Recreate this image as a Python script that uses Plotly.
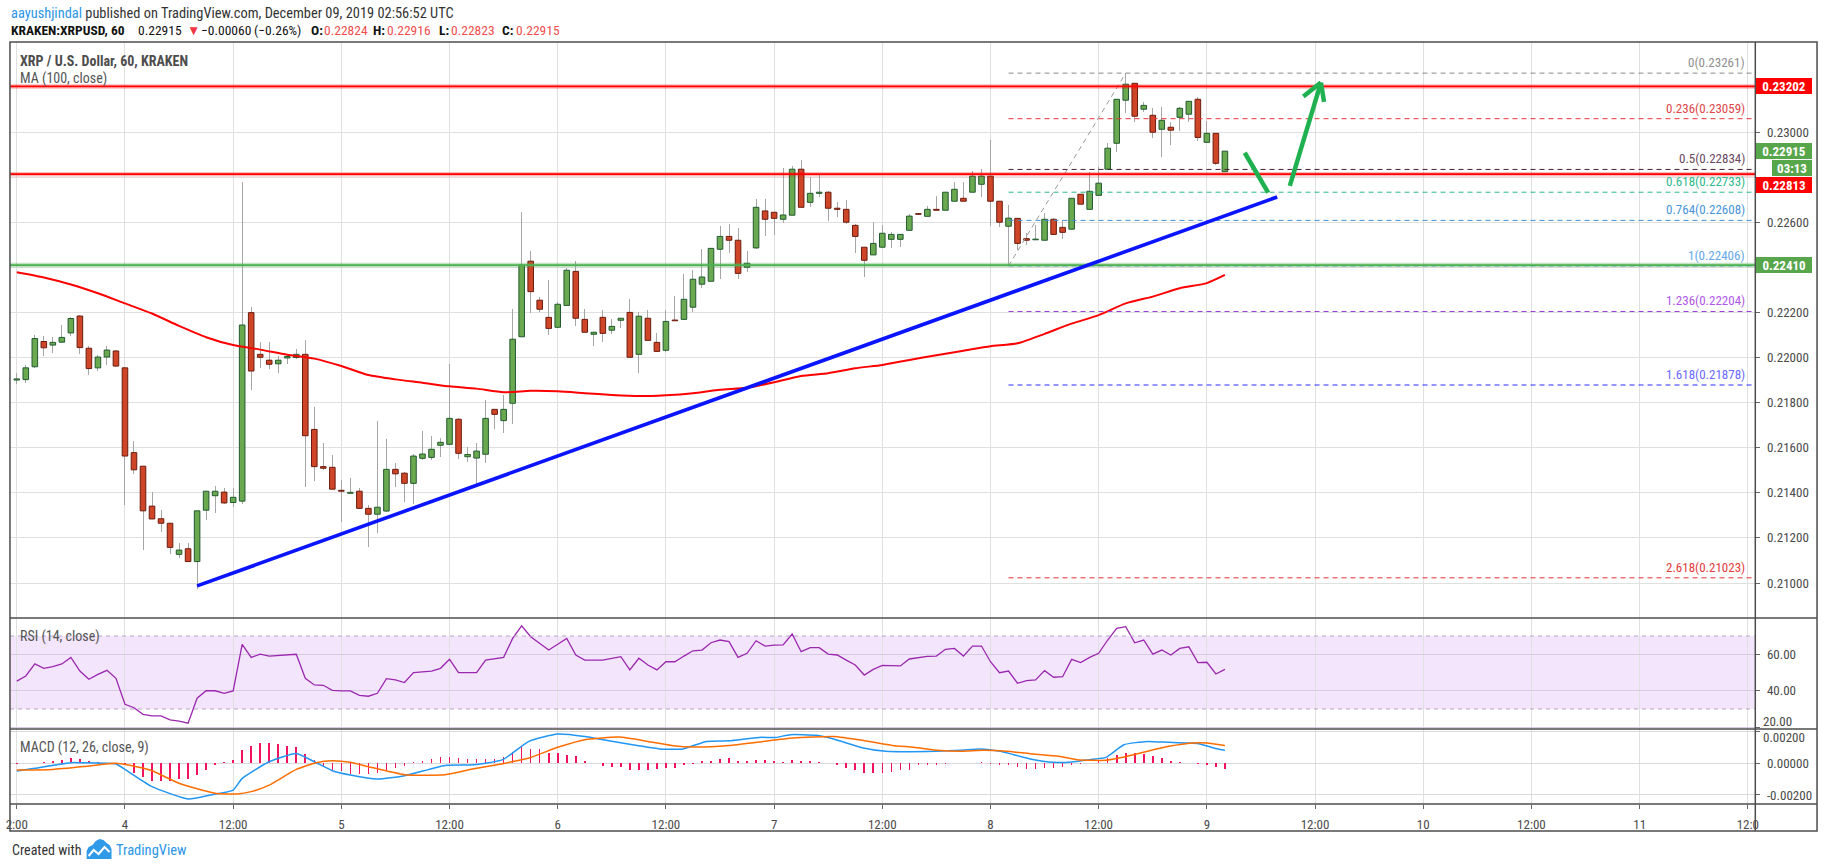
import pandas as pd
import plotly.graph_objects as go

W, H = 1828, 868
BASE = pd.Timestamp("2019-12-04 00:00")
FONT = "Liberation Sans Narrow, Roboto Condensed, Liberation Sans, sans-serif"

# ---------------- data ----------------
candle_hours = list(range(-12, 123))  # hours relative to Dec 4 00:00 UTC

opens = [0.21900, 0.21902, 0.21959, 0.22071, 0.22055, 0.22068, 0.22109, 0.22184, 0.22041, 0.21954, 0.22002, 0.22029,
         0.21954, 0.21578, 0.21518, 0.21341, 0.21285, 0.21265, 0.21127, 0.21152, 0.21095, 0.21323, 0.21387, 0.21403,
         0.21357, 0.21363, 0.22199, 0.22014, 0.21988, 0.21972, 0.21998, 0.22000, 0.22014, 0.21681, 0.21516, 0.21513,
         0.21411, 0.21398, 0.21407, 0.21331, 0.21305, 0.21319, 0.21504, 0.21487, 0.21442, 0.21553, 0.21557, 0.21611,
         0.21615, 0.21726, 0.21560, 0.21554, 0.21571, 0.21770, 0.21720, 0.21797, 0.22092, 0.22427, 0.22254, 0.22178,
         0.22134, 0.22231, 0.22382, 0.22169, 0.22103, 0.22178, 0.22121, 0.22165, 0.22200, 0.22014, 0.22174, 0.22067,
         0.22032, 0.22166, 0.22169, 0.22223, 0.22325, 0.22338, 0.22480, 0.22537, 0.22520, 0.22400, 0.22486, 0.22650,
         0.22644, 0.22613, 0.22631, 0.22835, 0.22688, 0.22728, 0.22733, 0.22662, 0.22657, 0.22586, 0.22489, 0.22455,
         0.22489, 0.22524, 0.22524, 0.22564, 0.22638, 0.22626, 0.22657, 0.22653, 0.22693, 0.22706, 0.22733, 0.22768,
         0.22804, 0.22693, 0.22582, 0.22617, 0.22527, 0.22522, 0.22520, 0.22613, 0.22577, 0.22569, 0.22724, 0.22657,
         0.22719, 0.22835, 0.22950, 0.23141, 0.23216, 0.23101, 0.23074, 0.23012, 0.23021, 0.23065, 0.23079, 0.23145,
         0.22954, 0.22994, 0.22824]
highs = [0.21930, 0.21967, 0.22100, 0.22097, 0.22089, 0.22144, 0.22181, 0.22189, 0.22052, 0.22010, 0.22049, 0.22033,
         0.21957, 0.21629, 0.21518, 0.21403, 0.21323, 0.21265, 0.21178, 0.21178, 0.21320, 0.21407, 0.21428, 0.21423,
         0.21423, 0.22778, 0.22224, 0.22070, 0.22067, 0.22007, 0.22010, 0.22039, 0.22078, 0.21782, 0.21619, 0.21568,
         0.21457, 0.21464, 0.21420, 0.21346, 0.21718, 0.21639, 0.21533, 0.21494, 0.21572, 0.21674, 0.21652, 0.21642,
         0.21971, 0.21730, 0.21601, 0.21619, 0.21811, 0.21770, 0.21834, 0.22215, 0.22647, 0.22472, 0.22267, 0.22344,
         0.22247, 0.22396, 0.22428, 0.22215, 0.22112, 0.22211, 0.22169, 0.22175, 0.22258, 0.22200, 0.22211, 0.22107,
         0.22211, 0.22273, 0.22370, 0.22388, 0.22481, 0.22802, 0.22583, 0.22592, 0.22574, 0.22472, 0.22705, 0.22703,
         0.22644, 0.22839, 0.22849, 0.22876, 0.22802, 0.22812, 0.22740, 0.22688, 0.22698, 0.22592, 0.22489, 0.22602,
         0.22588, 0.22558, 0.22546, 0.22635, 0.22640, 0.22670, 0.22716, 0.22733, 0.22778, 0.22778, 0.22827, 0.22835,
         0.22965, 0.22693, 0.22676, 0.22617, 0.22551, 0.22588, 0.22639, 0.22617, 0.22610, 0.22706, 0.22724, 0.22821,
         0.22846, 0.22951, 0.23145, 0.23261, 0.23216, 0.23132, 0.23105, 0.23110, 0.23043, 0.23112, 0.23136, 0.23157,
         0.23047, 0.22994, 0.22916]
lows = [0.21883, 0.21886, 0.21954, 0.22008, 0.22022, 0.22065, 0.22097, 0.22017, 0.21922, 0.21938, 0.21968, 0.21960,
        0.21344, 0.21482, 0.21146, 0.21282, 0.21228, 0.21130, 0.21111, 0.21095, 0.20975, 0.21280, 0.21312, 0.21352,
        0.21339, 0.21352, 0.21856, 0.21952, 0.21950, 0.21933, 0.21970, 0.21995, 0.21427, 0.21454, 0.21501, 0.21416,
        0.21272, 0.21396, 0.21327, 0.21161, 0.21222, 0.21316, 0.21427, 0.21361, 0.21349, 0.21546, 0.21547, 0.21557,
        0.21613, 0.21549, 0.21538, 0.21427, 0.21531, 0.21682, 0.21664, 0.21704, 0.22092, 0.22199, 0.22200, 0.22100,
        0.22129, 0.22231, 0.22141, 0.22112, 0.22052, 0.22070, 0.22103, 0.22129, 0.22001, 0.21930, 0.22076, 0.22027,
        0.22023, 0.22163, 0.22169, 0.22200, 0.22310, 0.22338, 0.22347, 0.22462, 0.22347, 0.22378, 0.22480, 0.22540,
        0.22543, 0.22598, 0.22631, 0.22666, 0.22666, 0.22710, 0.22607, 0.22622, 0.22592, 0.22462, 0.22356, 0.22455,
        0.22489, 0.22484, 0.22489, 0.22564, 0.22630, 0.22626, 0.22653, 0.22653, 0.22693, 0.22693, 0.22733, 0.22710,
        0.22585, 0.22577, 0.22406, 0.22477, 0.22499, 0.22520, 0.22520, 0.22546, 0.22525, 0.22569, 0.22680, 0.22657,
        0.22719, 0.22835, 0.22913, 0.23083, 0.23046, 0.23090, 0.22972, 0.22888, 0.22941, 0.23006, 0.23043, 0.22962,
        0.22954, 0.22852, 0.22823]
closes = [0.21905, 0.21954, 0.22084, 0.22043, 0.22067, 0.22089, 0.22173, 0.22044, 0.21951, 0.22002, 0.22033, 0.21962,
          0.21563, 0.21502, 0.21320, 0.21284, 0.21265, 0.21158, 0.21146, 0.21095, 0.21320, 0.21407, 0.21407, 0.21355,
          0.21380, 0.22144, 0.21940, 0.22001, 0.21970, 0.21988, 0.22004, 0.22014, 0.21653, 0.21516, 0.21509, 0.21416,
          0.21407, 0.21402, 0.21331, 0.21305, 0.21336, 0.21504, 0.21484, 0.21442, 0.21563, 0.21572, 0.21593, 0.21624,
          0.21730, 0.21575, 0.21570, 0.21585, 0.21730, 0.21748, 0.21770, 0.22081, 0.22410, 0.22292, 0.22214, 0.22129,
          0.22236, 0.22387, 0.22174, 0.22112, 0.22112, 0.22107, 0.22138, 0.22174, 0.22001, 0.22183, 0.22076, 0.22027,
          0.22160, 0.22163, 0.22258, 0.22347, 0.22357, 0.22484, 0.22537, 0.22520, 0.22373, 0.22418, 0.22666, 0.22613,
          0.22617, 0.22632, 0.22835, 0.22666, 0.22728, 0.22733, 0.22662, 0.22657, 0.22600, 0.22537, 0.22431, 0.22506,
          0.22551, 0.22546, 0.22546, 0.22627, 0.22635, 0.22657, 0.22653, 0.22733, 0.22746, 0.22693, 0.22804, 0.22804,
          0.22693, 0.22600, 0.22618, 0.22506, 0.22520, 0.22525, 0.22613, 0.22546, 0.22555, 0.22706, 0.22680, 0.22737,
          0.22773, 0.22928, 0.23145, 0.23212, 0.23070, 0.23118, 0.22999, 0.23052, 0.23008, 0.23105, 0.23136, 0.22976,
          0.22994, 0.22861, 0.22915]

ma_hours = [-12, -9, -6, -3, 0, 3, 6, 9, 12, 15, 18, 21, 24, 27, 30, 33, 36, 39, 42, 45, 48, 51, 54, 57, 60, 63,
            66, 69, 72, 75, 78, 81, 84, 87, 90, 93, 96, 99, 102, 105, 108, 111, 114, 117, 120, 122]
ma_values = [0.22378, 0.22355, 0.22324, 0.22285, 0.22240, 0.22195, 0.22140, 0.22090, 0.22055, 0.22035, 0.22012,
             0.21995, 0.21962, 0.21922, 0.21903, 0.21888, 0.21872, 0.21862, 0.21846, 0.21852, 0.21850, 0.21842,
             0.21834, 0.21829, 0.21833, 0.21842, 0.21857, 0.21866, 0.21890, 0.21918, 0.21930, 0.21952, 0.21967,
             0.21989, 0.22010, 0.22030, 0.22050, 0.22063, 0.22105, 0.22150, 0.22188, 0.22240, 0.22270, 0.22307,
             0.22330, 0.22366]

rsi_values = [45.3, 48.1, 54.7, 52.3, 53.2, 54.7, 58.3, 50.8, 46.3, 49.0, 51.2, 46.8,
              32.6, 30.7, 27.1, 26.2, 26.2, 24.0, 23.4, 22.2, 35.9, 40.0, 40.0, 38.6,
              39.9, 65.4, 58.3, 60.1, 59.0, 59.4, 59.5, 60.0, 46.8, 43.2, 43.0, 40.2,
              39.9, 39.9, 37.5, 37.0, 38.6, 46.6, 45.9, 44.5, 49.9, 50.5, 50.8, 52.3,
              57.2, 49.9, 49.9, 49.9, 56.8, 57.6, 58.3, 68.7, 75.6, 69.6, 66.0, 62.3,
              65.5, 68.7, 59.6, 56.8, 56.8, 56.8, 57.7, 58.7, 51.4, 57.8, 54.1, 51.4,
              55.9, 55.9, 59.0, 61.9, 62.3, 66.3, 67.8, 66.9, 58.3, 60.5, 67.4, 64.5,
              65.0, 65.1, 71.1, 61.4, 63.6, 63.6, 60.1, 59.6, 56.8, 54.1, 48.6, 51.7,
              53.9, 53.8, 53.6, 57.4, 58.3, 58.8, 59.0, 62.7, 63.2, 59.0, 64.5, 64.5,
              55.9, 49.9, 50.8, 44.1, 45.5, 45.9, 51.0, 47.4, 47.7, 57.2, 55.4, 58.3,
              60.5, 67.8, 74.2, 75.1, 66.3, 67.8, 60.1, 62.3, 59.6, 63.2, 64.1, 55.4,
              55.6, 49.2, 51.7]

macd_hours = [-12, -10, -6, -5, -1, 0, 3, 7, 9.5, 12, 13, 16, 19, 21, 23, 25, 28, 31, 35.5, 38.7, 41.9, 44.8,
              48, 51, 53.5, 56.8, 59.3, 61.9, 64.5, 67, 70.3, 72.2, 73.8, 76.7, 78.6, 81.9, 84.4, 90, 92.7, 94.9,
              97.1, 100.4, 103, 105, 107, 108.8, 110.8, 113.4, 115.8, 117.8, 119.1, 121, 122]
macd_values = [-0.00050, -0.00033, 0.00002, 0.00002, -0.00006, -0.00040, -0.00148, -0.00225, -0.00200, -0.00169,
               -0.00096, 0.00008, 0.00060, 0.00008, -0.00048, -0.00075, -0.00100, -0.00080, -0.00015, -0.00011,
               0.00021, 0.00135, 0.00181, 0.00166, 0.00141, 0.00110, 0.00088, 0.00088, 0.00135, 0.00139, 0.00160,
               0.00160, 0.00177, 0.00173, 0.00150, 0.00094, 0.00073, 0.00073, 0.00079, 0.00088, 0.00073, 0.00025,
               0.00004, 0.00006, 0.00021, 0.00035, 0.00114, 0.00135, 0.00129, 0.00125, 0.00121, 0.00090, 0.00079]

signal_hours = [-12, -8, -4, -1, 1.3, 3, 6, 10, 12.4, 14, 16, 19, 21.2, 23, 25, 27, 31, 35.5, 38.7, 41.9, 44.8,
                48, 51, 54.8, 58, 60.6, 63.2, 67, 70.3, 74.1, 78.6, 81.9, 85.1, 87.5, 90.1, 92.7, 95.3, 97.8,
                100.4, 103.6, 105.6, 108.8, 110.8, 113.4, 115.8, 118.4, 120, 122]
signal_values = [-0.00044, -0.00040, -0.00019, -0.00002, -0.00023, -0.00048, -0.00127, -0.00189, -0.00194,
                 -0.00179, -0.00138, -0.00040, 0.00002, 0.00014, 0.00004, -0.00023, -0.00073, -0.00073, -0.00036,
                 -0.00004, 0.00031, 0.00098, 0.00146, 0.00162, 0.00135, 0.00110, 0.00100, 0.00110, 0.00131,
                 0.00156, 0.00166, 0.00141, 0.00110, 0.00098, 0.00079, 0.00073, 0.00079, 0.00073, 0.00058,
                 0.00042, 0.00021, 0.00017, 0.00037, 0.00073, 0.00104, 0.00125, 0.00125, 0.00110]

hist_values = [-0.00005, -0.00003, 0.00002, 0.00007, 0.00012, 0.00020, 0.00030, 0.00022, 0.00012, 0.00008, 0.00003, -0.00002,
               -0.00015, -0.00062, -0.00090, -0.00110, -0.00112, -0.00110, -0.00100, -0.00100, -0.00073, -0.00042, -0.00010, 0.00005,
               0.00018, 0.00083, 0.00108, 0.00125, 0.00125, 0.00120, 0.00108, 0.00098, 0.00056, 0.00020, -0.00020, -0.00046,
               -0.00050, -0.00069, -0.00070, -0.00068, -0.00060, -0.00042, -0.00030, -0.00020, 0.00004, 0.00010, 0.00025, 0.00035,
               0.00040, 0.00030, 0.00025, 0.00025, 0.00025, 0.00025, 0.00040, 0.00070, 0.00100, 0.00090, 0.00090, 0.00065,
               0.00065, 0.00050, 0.00045, 0.00015, 0.00000, -0.00020, -0.00027, -0.00027, -0.00042, -0.00042, -0.00042, -0.00038,
               -0.00030, -0.00030, -0.00015, -0.00005, 0.00010, 0.00010, 0.00025, 0.00030, 0.00010, 0.00010, 0.00020, 0.00020,
               0.00010, 0.00007, 0.00020, 0.00010, 0.00010, 0.00007, 0.00000, -0.00015, -0.00030, -0.00046, -0.00060, -0.00060,
               -0.00060, -0.00055, -0.00046, -0.00046, -0.00015, -0.00015, -0.00010, -0.00005, 0.00002, 0.00002, 0.00002, 0.00004,
               -0.00005, -0.00010, -0.00015, -0.00025, -0.00036, -0.00036, -0.00030, -0.00030, -0.00025, -0.00015, -0.00004, 0.00002,
               0.00021, 0.00030, 0.00050, 0.00065, 0.00060, 0.00056, 0.00044, 0.00030, 0.00015, 0.00006, 0.00000, -0.00004,
               -0.00015, -0.00025, -0.00036]

fib_ratios = ["0", "0.236", "0.5", "0.618", "0.764", "1", "1.236", "1.618", "2.618"]
fib_levels = [0.23261, 0.23059, 0.22834, 0.22733, 0.22608, 0.22406, 0.22204, 0.21878, 0.21023]
fib_line_colors = ["#8a8a8a", "#e8343a", "#3d1f30", "#2bb98a", "#3e8fd4", "#5f9fe0", "#9b3fd6", "#2a2aff", "#e3302f"]
fib_text_colors = ["#8e8e8e", "#e0464a", "#6a4a62", "#2fb98c", "#4a94d8", "#64a8ea", "#b058e8", "#6a6aff", "#e23b3b"]
fib_start_hour = 98
fib_swing_hours = [98, 111]
fib_swing_prices = [0.22406, 0.23261]

resistance_levels = [0.23202, 0.22813]
support_level = 0.22410
trend_hours = [8, 127.8]
trend_prices = [0.20987, 0.22712]
arrow_down_hours = [124.2, 126.8]
arrow_down_prices = [0.22908, 0.22731]
arrow_up_hours = [129.2, 132.65]
arrow_up_prices = [0.22761, 0.23219]
arrow_head_hours = [130.7, 132.65, 133.0]
arrow_head_prices = [0.23157, 0.23219, 0.23134]

price_ticks = [0.210, 0.212, 0.214, 0.216, 0.218, 0.220, 0.222, 0.224, 0.226, 0.228, 0.230, 0.232]
price_tick_text = ["0.21000", "0.21200", "0.21400", "0.21600", "0.21800", "0.22000", "0.22200", "",
                   "0.22600", "", "0.23000", ""]  # blanks sit under the coloured price boxes
rsi_ticks = [20, 40, 60]
rsi_tick_text = ["", "40.00", "60.00"]        # "20.00" is placed by hand at the pane seam
macd_ticks = [-0.002, 0, 0.002]
macd_tick_text = ["-0.00200", "0.00000", ""]  # "0.00200" is placed by hand at the pane seam
time_tick_hours = [-12, 0, 12, 24, 36, 48, 60, 72, 84, 96, 108, 120, 132, 144, 156, 168, 180]
time_tick_text = ["2:00", "4", "12:00", "5", "12:00", "6", "12:00", "7", "12:00", "8", "12:00", "9",
                  "12:00", "10", "12:00", "11", "12:0"]

# header line 2 pieces: (left px, text, colour, bold)
header2_parts = [(5, "KRAKEN:XRPUSD, 60", "#111", True), (133, "0.22915", "#111", False),
                 (182, "▼", "#f23645", False), (196, "−0.00060", "#111", False),
                 (249, "(−0.26%)", "#111", False), (306, "O:", "#111", True), (319, "0.22824", "#f04e4e", False),
                 (369, "H:", "#111", True), (383, "0.22916", "#f04e4e", False), (435, "L:", "#111", True),
                 (447, "0.22823", "#f04e4e", False), (498, "C:", "#111", True), (512, "0.22915", "#f04e4e", False)]


# ---------------- helpers ----------------
def t(h):
    return BASE + pd.Timedelta(hours=h)


def px(x):
    return x / W


def py(y):
    return 1 - y / H


HOUR_PX = 9.055
MS_PER_PX = 3600000 / HOUR_PX
times = [t(h) for h in candle_hours]
x_range = [t(-12.755), t(180.83)]

UP_FILL, UP_LINE = "#6aa94f", "#225a30"
DN_FILL, DN_LINE = "#cf4528", "#6b1c0e"

fig = go.Figure()

# wicks (as thin bars so bodies are drawn over them)
fig.add_trace(go.Bar(x=times, y=[h - l for h, l in zip(highs, lows)], base=lows,
                     width=1.0 * MS_PER_PX, marker=dict(color="#a6a6a6", line=dict(width=0)),
                     xaxis="x", yaxis="y", hoverinfo="skip", showlegend=False))
# bodies
body_h = [max(abs(c - o), 0.000015) for o, c in zip(opens, closes)]
body_b = [min(o, c) for o, c in zip(opens, closes)]
fills = [UP_FILL if c >= o else DN_FILL for o, c in zip(opens, closes)]
lines = [UP_LINE if c >= o else DN_LINE for o, c in zip(opens, closes)]
fig.add_trace(go.Bar(x=times, y=body_h, base=body_b, width=5.6 * MS_PER_PX,
                     marker=dict(color=fills, line=dict(color=lines, width=1)),
                     xaxis="x", yaxis="y", hoverinfo="skip", showlegend=False))
# MA 100
fig.add_trace(go.Scatter(x=[t(h) for h in ma_hours], y=ma_values, mode="lines",
                         line=dict(color="#ff0000", width=2, shape="spline", smoothing=0.6),
                         xaxis="x", yaxis="y", hoverinfo="skip", showlegend=False))
# RSI
fig.add_trace(go.Scatter(x=times, y=rsi_values, mode="lines", line=dict(color="#9b27af", width=1.3),
                         xaxis="x2", yaxis="y2", hoverinfo="skip", showlegend=False))
# MACD
fig.add_trace(go.Bar(x=times, y=hist_values, width=1.6 * MS_PER_PX,
                     marker=dict(color="#f2125e", line=dict(width=0)),
                     xaxis="x3", yaxis="y3", hoverinfo="skip", showlegend=False))
fig.add_trace(go.Scatter(x=[t(h) for h in macd_hours], y=macd_values, mode="lines",
                         line=dict(color="#2196f3", width=1.5, shape="spline", smoothing=0.5),
                         xaxis="x3", yaxis="y3", hoverinfo="skip", showlegend=False))
fig.add_trace(go.Scatter(x=[t(h) for h in signal_hours], y=signal_values, mode="lines",
                         line=dict(color="#ff6d00", width=1.5, shape="spline", smoothing=0.5),
                         xaxis="x3", yaxis="y3", hoverinfo="skip", showlegend=False))

GRID = "#e0e0e0"
TICKFONT = dict(family=FONT, size=13, color="#4a4a4a")
xdom = [px(6), px(1759)]
tick_times = [t(h) for h in time_tick_hours]
common_x = dict(domain=xdom, range=x_range, type="date", showgrid=True, gridcolor=GRID, gridwidth=1,
                tickvals=tick_times, zeroline=False, showline=False, fixedrange=True)

fig.update_layout(
    width=W, height=H, margin=dict(l=0, r=0, t=0, b=0, pad=0),
    paper_bgcolor="white", plot_bgcolor="white", barmode="overlay", bargap=0,
    hovermode=False, showlegend=False, font=dict(family=FONT, size=13, color="#333"),
    xaxis=dict(**common_x, anchor="y", showticklabels=False),
    xaxis2=dict(**common_x, anchor="y2", showticklabels=False),
    xaxis3=dict(**common_x, anchor="y3", showticklabels=True, ticktext=time_tick_text,
                ticks="outside", ticklen=4, tickcolor="#666", tickfont=TICKFONT, ticklabelstandoff=4),
    yaxis=dict(domain=[py(618), py(42)], range=[0.208448, 0.233991], side="right", anchor="x",
               tickvals=price_ticks, ticktext=price_tick_text, showgrid=True,
               gridcolor=GRID, zeroline=False, ticks="outside", ticklen=4, tickcolor="#666",
               tickfont=TICKFONT, ticklabelstandoff=4, fixedrange=True),
    yaxis2=dict(domain=[py(729), py(618)], range=[19.04, 79.86], side="right", anchor="x2",
                tickvals=rsi_ticks, ticktext=rsi_tick_text, showgrid=True,
                gridcolor="#d6cbe0", zeroline=False, ticks="outside", ticklen=4, tickcolor="#666",
                tickfont=TICKFONT, ticklabelstandoff=4, fixedrange=True),
    yaxis3=dict(domain=[py(804), py(729)], range=[-0.002563, 0.002125], side="right", anchor="x3",
                tickvals=macd_ticks, ticktext=macd_tick_text, showgrid=True,
                gridcolor="#d9d9d9", zeroline=False, ticks="outside", ticklen=4, tickcolor="#666",
                tickfont=TICKFONT, ticklabelstandoff=4, fixedrange=True),
)

shapes = []
# RSI band & dashed bounds
shapes.append(dict(type="rect", xref="paper", yref="y2", x0=px(6), x1=px(1759), y0=30, y1=70,
                   fillcolor="#f3e6fc", line=dict(width=0), layer="below"))
for lvl in (30, 70):
    shapes.append(dict(type="line", xref="paper", yref="y2", x0=px(6), x1=px(1759), y0=lvl, y1=lvl,
                       line=dict(color="#b6a6c6", width=1, dash="4px,4px"), layer="above"))
# Fibonacci lines
for lvl, col in zip(fib_levels, fib_line_colors):
    shapes.append(dict(type="line", xref="x", yref="y", x0=t(fib_start_hour), x1=t(180.7), y0=lvl, y1=lvl,
                       line=dict(color=col, width=1, dash="5px,4px"), layer="above"))
shapes.append(dict(type="line", xref="x", yref="y", x0=t(fib_swing_hours[0]), x1=t(fib_swing_hours[1]),
                   y0=fib_swing_prices[0], y1=fib_swing_prices[1],
                   line=dict(color="#9a9a9a", width=1, dash="5px,4px"), layer="above"))
# horizontal levels (halo + line)
for lvl in resistance_levels:
    shapes.append(dict(type="line", xref="paper", yref="y", x0=px(6), x1=px(1759), y0=lvl, y1=lvl,
                       line=dict(color="rgba(255,0,0,0.28)", width=4.5), layer="above"))
    shapes.append(dict(type="line", xref="paper", yref="y", x0=px(6), x1=px(1759), y0=lvl, y1=lvl,
                       line=dict(color="#ff0000", width=1.8), layer="above"))
shapes.append(dict(type="line", xref="paper", yref="y", x0=px(6), x1=px(1759), y0=support_level, y1=support_level,
                   line=dict(color="rgba(76,175,80,0.35)", width=4.5), layer="above"))
shapes.append(dict(type="line", xref="paper", yref="y", x0=px(6), x1=px(1759), y0=support_level, y1=support_level,
                   line=dict(color="#4caf50", width=1.8), layer="above"))
# trend line
shapes.append(dict(type="line", xref="x", yref="y", x0=t(trend_hours[0]), x1=t(trend_hours[1]),
                   y0=trend_prices[0], y1=trend_prices[1], line=dict(color="#0a14ff", width=3.6), layer="above"))
# green arrows
ARROW = dict(color="#1fb150", width=4.5)
shapes.append(dict(type="line", xref="x", yref="y", x0=t(arrow_down_hours[0]), x1=t(arrow_down_hours[1]),
                   y0=arrow_down_prices[0], y1=arrow_down_prices[1], line=ARROW, layer="above"))
shapes.append(dict(type="line", xref="x", yref="y", x0=t(arrow_up_hours[0]), x1=t(arrow_up_hours[1]),
                   y0=arrow_up_prices[0], y1=arrow_up_prices[1], line=ARROW, layer="above"))
shapes.append(dict(type="line", xref="x", yref="y", x0=t(arrow_head_hours[0]), x1=t(arrow_head_hours[1]),
                   y0=arrow_head_prices[0], y1=arrow_head_prices[1], line=ARROW, layer="above"))
shapes.append(dict(type="line", xref="x", yref="y", x0=t(arrow_head_hours[2]), x1=t(arrow_head_hours[1]),
                   y0=arrow_head_prices[2], y1=arrow_head_prices[1], line=ARROW, layer="above"))
# frame and pane separators
FR = dict(color="#4d4d4d", width=1.5)
shapes.append(dict(type="rect", xref="paper", yref="paper", x0=px(6), x1=px(1821), y0=py(831), y1=py(42),
                   line=FR, layer="above"))
for yy in (618, 729, 804):
    shapes.append(dict(type="line", xref="paper", yref="paper", x0=px(6), x1=px(1821), y0=py(yy), y1=py(yy),
                       line=FR, layer="above"))
shapes.append(dict(type="line", xref="paper", yref="paper", x0=px(1759), x1=px(1759), y0=py(831), y1=py(42),
                   line=FR, layer="above"))


# TradingView logo (small cloud)
def path(pts, close=True):
    s = "M " + " L ".join("%.5f,%.5f" % (px(a), py(b)) for a, b in pts)
    return s + (" Z" if close else "")


cloud = [(83, 859), (83, 851), (85, 847), (89, 845), (92, 841), (96, 839), (100, 840), (103, 843),
         (106, 845), (108, 849), (108, 859)]
shapes.append(dict(type="path", xref="paper", yref="paper", path=path(cloud), fillcolor="#2f9ae8",
                   line=dict(width=0), layer="above"))
shapes.append(dict(type="path", xref="paper", yref="paper",
                   path=path([(85, 856), (90, 850), (95, 854), (101, 847), (106, 852)], close=False),
                   line=dict(color="white", width=2), layer="above"))
fig.update_layout(shapes=shapes)

ann = []


def text(x, y, s, size=13, color="#333", xanchor="left", yanchor="middle", **kw):
    ann.append(dict(x=px(x), y=py(y), xref="paper", yref="paper", text=s, showarrow=False,
                    xanchor=xanchor, yanchor=yanchor, font=dict(family=FONT, size=size, color=color), **kw))


text(5, 13, "<span style='color:#2d96e8'>aayushjindal</span> published on TradingView.com, December 09, 2019 02:56:52 UTC",
     size=14.4, color="#333")
for x0, s, col, bold in header2_parts:
    text(x0, 30, "<b>%s</b>" % s if bold else s, size=13.5, color=col)
text(14, 61, "<b>XRP / U.S. Dollar, 60, KRAKEN</b>", size=14, color="#4d4d4d")
text(14, 78, "MA (100, close)", size=14, color="#555")
text(14, 636, "RSI (14, close)", size=14, color="#555")
text(14, 747, "MACD (12, 26, close, 9)", size=14, color="#555")
text(6, 850, "Created with", size=14, color="#333")
text(110, 850, "TradingView", size=14.5, color="#2d96e8")
# axis labels sitting at the RSI / MACD seam
text(1765, 721.5, "20.00", size=13, color="#4a4a4a")
text(1765, 737.5, "0.00200", size=13, color="#4a4a4a")

# fib labels
for r, lvl, col in zip(fib_ratios, fib_levels, fib_text_colors):
    ann.append(dict(x=px(1751), y=lvl, xref="paper", yref="y", text="%s(%.5f)" % (r, lvl), showarrow=False,
                    xanchor="right", yanchor="bottom", yshift=1, font=dict(family=FONT, size=13, color=col)))


# price boxes on axis
def box(yval, s, color, yref="y", x0=1760, w=52):
    ann.append(dict(x=px(x0), y=yval, xref="paper", yref=yref, text="<b>%s</b>" % s, showarrow=False,
                    xanchor="left", yanchor="middle", bgcolor=color, borderpad=2, borderwidth=0,
                    width=w, height=12, align="center", font=dict(family=FONT, size=13, color="white")))


GREEN_BOX = "#58a64c"
box(0.23202, "0.23202", "#ff0000")
box(0.22915, "0.22915", GREEN_BOX)
box(py(168.3), "03:13", GREEN_BOX, yref="paper", x0=1776, w=36)
box(py(185.4), "0.22813", "#ff0000", yref="paper")   # pushed below the countdown box, as in the original
box(0.22410, "0.22410", GREEN_BOX)

fig.update_layout(annotations=ann)

fig.write_html("out.html", config={"displayModeBar": False, "staticPlot": True},
               post_script="document.body.style.margin='0';document.body.style.overflow='hidden';")
